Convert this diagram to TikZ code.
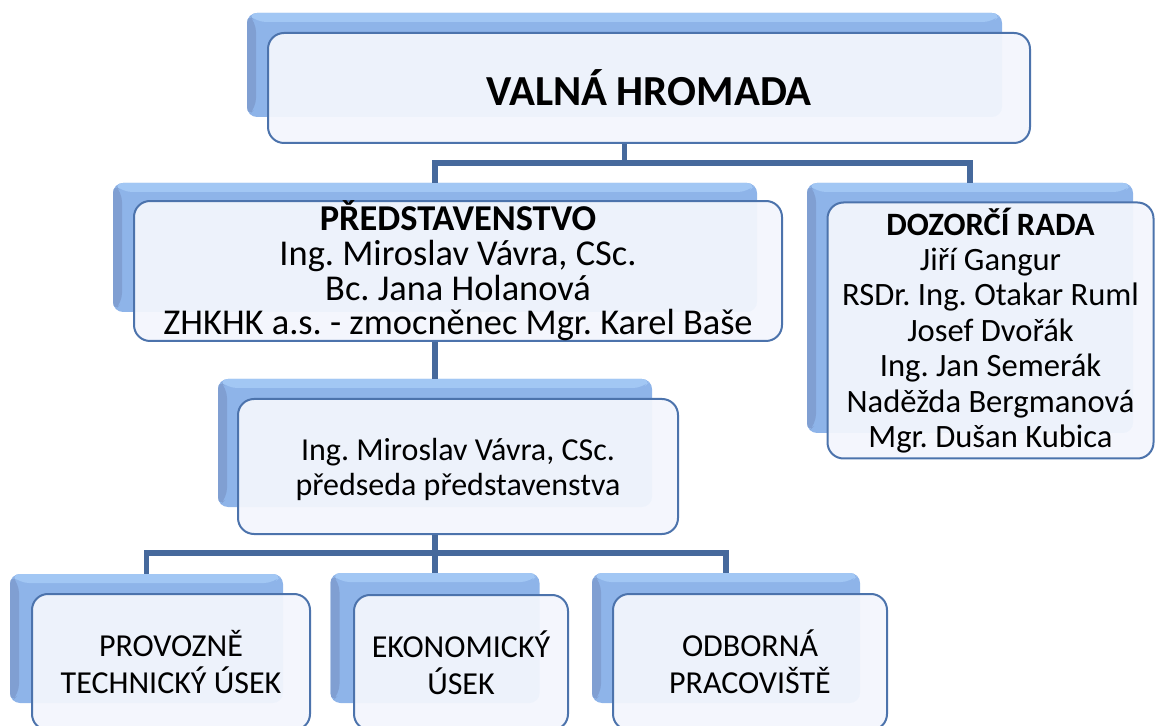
\documentclass[tikz,border=0pt]{standalone}
\usepackage{fontspec}
\setmainfont{Carlito}
\usepackage{tikz}

\definecolor{ShadowBlue}{HTML}{8EB4E9}
\definecolor{ShadowTop}{HTML}{A2C7F4}
\definecolor{ShadowLeft}{HTML}{809FD2}
\definecolor{FrameBlue}{HTML}{4C73AC}
\definecolor{PaperBlue}{HTML}{F3F6FD}
\definecolor{LineBlue}{HTML}{46699C}

\tikzset{
  backbox/.style={rounded corners=5pt, fill=ShadowBlue, inner sep=0pt,
    path picture={
      \fill[ShadowTop] (path picture bounding box.north west) -- (path picture bounding box.north east)
        -- ([shift={(-4.5pt,-4.5pt)}]path picture bounding box.north east)
        -- ([shift={(4.5pt,-4.5pt)}]path picture bounding box.north west) -- cycle;
      \fill[ShadowLeft] (path picture bounding box.north west)
        -- ([shift={(4.5pt,-4.5pt)}]path picture bounding box.north west)
        -- ([shift={(4.5pt,4.5pt)}]path picture bounding box.south west)
        -- (path picture bounding box.south west) -- cycle;
    }},
  frontbox/.style={rounded corners=8pt, draw=FrameBlue, line width=1pt,
    fill=PaperBlue, fill opacity=0.95, text opacity=1, align=center,
    inner sep=0pt, font=\fontsize{16}{17.5}\selectfont},
  conn/.style={draw=LineBlue, line width=2.6pt}
}

\begin{document}
\frenchspacing
\lineskiplimit=-20pt
\begin{tikzpicture}[x=0.5pt, y=-0.5pt]
    \clip (0,0) rectangle (1155,726);

    % valna hromada
    \node [backbox, minimum width=377.5pt, minimum height=52pt] (vhs) at (624.5,65) {};
    \node [frontbox, minimum width=381pt, minimum height=55pt,
      font=\fontsize{21.4}{24}\selectfont\bfseries] (vh) at (649,88) {VALNÁ HROMADA};

    % predstavenstvo
    \node [backbox, minimum width=322pt, minimum height=64.5pt] (pres) at (435,247.5) {};
    \node [frontbox, minimum width=324pt, minimum height=68pt,
      font=\fontsize{18.2}{17.3}\selectfont] (pre) at (458,271)
      {\textbf{PŘEDSTAVENSTVO}\\Ing. Miroslav Vávra, CSc.\\Bc. Jana Holanová\\ZHKHK a.s. - zmocněnec Mgr. Karel Baše};

    % dozorci rada
    \node [backbox, minimum width=163pt, minimum height=125pt] (dozs) at (970,308) {};
    \node [frontbox, minimum width=163pt, minimum height=128pt,
      font=\fontsize{16.3}{17.7}\selectfont] (doz) at (990.5,330.5)
      {\textbf{DOZORČÍ RADA}\\Jiří Gangur\\RSDr. Ing. Otakar Ruml\\Josef Dvořák\\Ing. Jan Semerák\\Naděžda Bergmanová\\Mgr. Dušan Kubica};

    % predseda
    \node [backbox, minimum width=217pt, minimum height=64pt] (chiefs) at (435,443) {};
    \node [frontbox, minimum width=220pt, minimum height=67.5pt] (chief) at (458,466.5)
      {\rule{0pt}{14pt}Ing. Miroslav Vávra, CSc.\\předseda představenstva};

    % useky
    \node [backbox, minimum width=136.5pt, minimum height=64.5pt] (b1s) at (146.5,638.5) {};
    \node [frontbox, minimum width=139pt, minimum height=68pt,
      font=\fontsize{16}{18.5}\selectfont] (b1) at (171,662) {PROVOZNĚ\\TECHNICKÝ ÚSEK};
    \node [backbox, minimum width=104.5pt, minimum height=65pt] (b2s) at (435,638) {};
    \node [frontbox, minimum width=107pt, minimum height=67.5pt,
      font=\fontsize{16}{18.5}\selectfont] (b2) at (461,662.5) {EKONOMICKÝ\\ÚSEK};
    \node [backbox, minimum width=134pt, minimum height=65pt] (b3s) at (726,638) {};
    \node [frontbox, minimum width=137pt, minimum height=68pt,
      font=\fontsize{16}{18.5}\selectfont] (b3) at (750,662) {ODBORNÁ\\PRACOVIŠTĚ};

    % connectors
    \draw [conn] (vhs.center |- vh.south) -- ++(0,19) coordinate (vhbar);
    \draw [conn] (pres.north) |- (vhbar) -| (dozs.north);
    \draw [conn] (pres.center |- pre.south) -- (chiefs.north);
    \draw [conn] (chiefs.center |- chief.south) -- ++(0,18) coordinate (chbar);
    \draw [conn] (b1s.north) |- (chbar) -| (b3s.north);
    \draw [conn] (chbar) -- (b2s.north);
\end{tikzpicture}
\end{document}
